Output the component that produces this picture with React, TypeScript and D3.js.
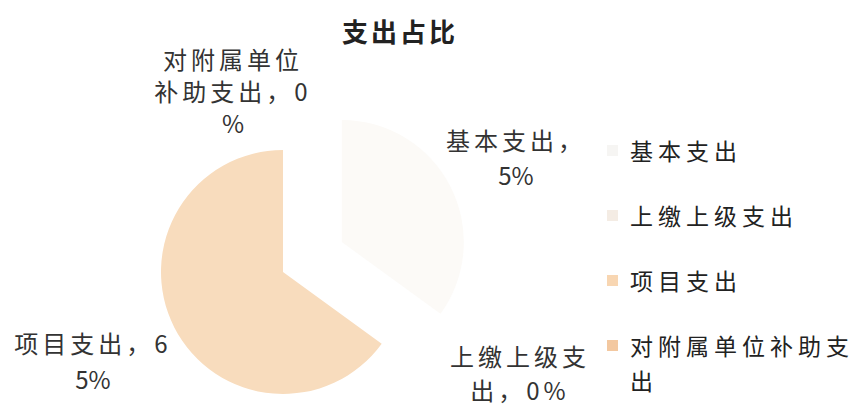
import React from "react";
import * as d3 from "d3";

const categories = ["基本支出", "上缴上级支出", "项目支出", "对附属单位补助支出"];
const values = [35, 0, 65, 0];
const labelLines = [["基本支出，", "5%"], ["上缴上级支", "出，0%"], ["项目支出，6", "5%"], ["对附属单位", "补助支出，0", "%"]];
const legendLines = [["基本支出"], ["上缴上级支出"], ["项目支出"], ["对附属单位补助支", "出"]];
const title = "支出占比";

const sliceColors = ["#fcfaf7", "#f6efe7", "#f8dcbd", "#f4c9a2"];
const legendColors = ["#f6f5f3", "#f4ece4", "#f8d6b2", "#f3c8a0"];

const W = 859, H = 405;
const cx = 283, cy = 272, R = 122;
const explode = [66, 0, 0, 0];
// label centers (x, y of first line center)
const labelPos: [number, number][] = [[516, 139], [520, 355], [93, 342], [233, 58]];
const labelLH = [35, 34, 36, 32];
const hasCJK = (s: string) => /[\u3000-\u9fff\uff00-\uffef]/.test(s);

export default function App() {
  const pie = d3.pie<number>().sort(null).value((d) => d).startAngle(0).endAngle(Math.PI * 2);
  const arcs = pie(values);
  const arc = d3.arc<d3.PieArcDatum<number>>().innerRadius(0).outerRadius(R);
  const font = "'Noto Sans CJK SC', 'Noto Sans', sans-serif";
  return (
    <svg width={W} height={H} style={{ position: "absolute", left: 0, top: 0, background: "#fff" }}>
      <text x={400} y={30} textAnchor="middle" dominantBaseline="central" fontFamily={font} fontWeight="bold" fontSize={26} letterSpacing={3} fill="#222">
        {title}
      </text>
      {arcs.map((a, i) => {
        const mid = (a.startAngle + a.endAngle) / 2;
        const dx = Math.sin(mid) * explode[i];
        const dy = -Math.cos(mid) * explode[i];
        return (
          <path key={i} d={arc(a) || ""} transform={`translate(${cx + dx},${cy + dy})`} fill={sliceColors[i]} />
        );
      })}
      {labelLines.map((lines, i) => (
        <text key={i} textAnchor="middle" fontFamily={font} fontSize={24} fill="#333">
          {lines.map((l, j) => (
            <tspan key={j} x={labelPos[i][0]} y={labelPos[i][1] + j * labelLH[i]} dominantBaseline="central" letterSpacing={hasCJK(l) ? 4 : 0}>
              {l}
            </tspan>
          ))}
        </text>
      ))}
      {categories.map((c, i) => {
        const y = 150 + i * 65;
        return (
          <g key={c}>
            <rect x={607} y={y - 5} width={11} height={11} fill={legendColors[i]} />
            <text fontFamily={font} fontSize={23} fill="#222" letterSpacing={5}>
              {legendLines[i].map((l, j) => (
                <tspan key={j} x={630} y={y + j * 35} dominantBaseline="central">
                  {l}
                </tspan>
              ))}
            </text>
          </g>
        );
      })}
    </svg>
  );
}
